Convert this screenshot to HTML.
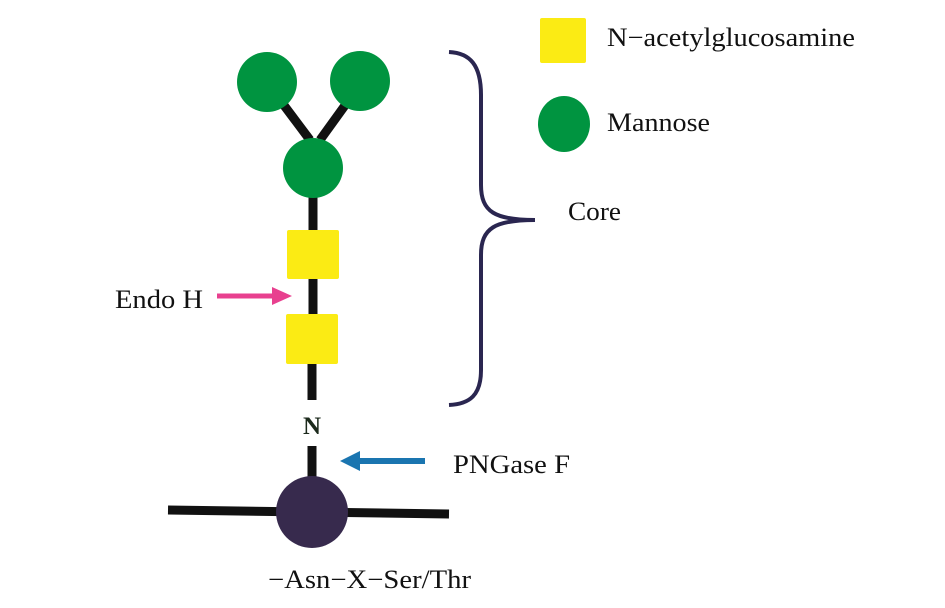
<!DOCTYPE html>
<html><head><meta charset="utf-8"><style>
html,body{margin:0;padding:0;background:#fff}
svg{display:block}
text{font-family:"Liberation Serif",serif;fill:#111}
</style></head><body>
<svg width="945" height="608" viewBox="0 0 945 608" xmlns="http://www.w3.org/2000/svg">
<g stroke="#111" stroke-width="9">
<line x1="283" y1="104" x2="310" y2="140"/>
<line x1="346" y1="104" x2="320" y2="140"/>
<line x1="313" y1="195" x2="313" y2="232"/>
<line x1="313" y1="278" x2="313" y2="316"/>
<line x1="312" y1="362" x2="312" y2="400"/>
<line x1="312" y1="446" x2="312" y2="480"/>
<line x1="168" y1="510" x2="449" y2="514"/>
</g>
<circle cx="267" cy="82" r="30" fill="#009440"/>
<circle cx="360" cy="81" r="30" fill="#009440"/>
<circle cx="313" cy="168" r="30" fill="#009440"/>
<rect x="287" y="230" width="52" height="49" rx="2" fill="#fbeb14"/>
<rect x="286" y="314" width="52" height="50" rx="2" fill="#fbeb14"/>
<circle cx="312" cy="512" r="36" fill="#372a4d"/>
<path d="M449 52 C470 53 481 65 481 95 L481 185 C481 212 495 220 535 220 C495 220 481 228 481 255 L481 370 C481 395 470 404 449 405" fill="none" stroke="#2a2650" stroke-width="4"/>
<text x="312" y="434" text-anchor="middle" font-size="25" font-weight="bold" style="fill:#1c2a1c">N</text>
<line x1="217" y1="296" x2="276" y2="296" stroke="#e8408f" stroke-width="5"/>
<polygon points="272,287 292,296 272,305" fill="#e8408f"/>
<line x1="425" y1="461" x2="356" y2="461" stroke="#1a75b0" stroke-width="6"/>
<polygon points="360,451 340,461 360,471" fill="#1a75b0"/>
<text x="115" y="308" font-size="26" textLength="88" lengthAdjust="spacingAndGlyphs">Endo H</text>
<text x="453" y="473" font-size="26" textLength="117" lengthAdjust="spacingAndGlyphs">PNGase F</text>
<text x="268" y="588" font-size="26" textLength="203" lengthAdjust="spacingAndGlyphs">−Asn−X−Ser/Thr</text>
<rect x="540" y="18" width="46" height="45" rx="2" fill="#fbeb14"/>
<ellipse cx="564" cy="124" rx="26" ry="28" fill="#009440"/>
<text x="607" y="46" font-size="26" textLength="248" lengthAdjust="spacingAndGlyphs">N−acetylglucosamine</text>
<text x="607" y="131" font-size="26" textLength="103" lengthAdjust="spacingAndGlyphs">Mannose</text>
<text x="568" y="220" font-size="26" textLength="53" lengthAdjust="spacingAndGlyphs">Core</text>
</svg>
</body></html>
